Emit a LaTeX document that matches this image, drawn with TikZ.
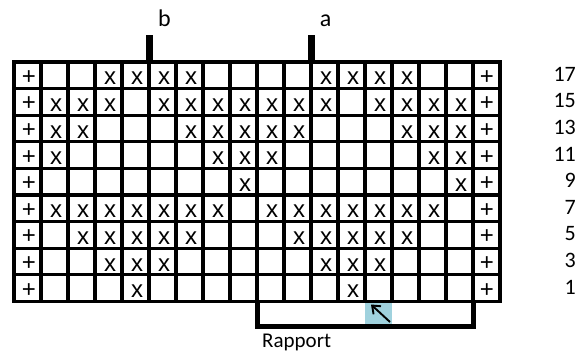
\documentclass[tikz,border=0pt]{standalone}
\usepackage{fontspec}
\setmainfont{Carlito}
\newfontfamily\cellfont{Liberation Sans}
\usetikzlibrary{arrows.meta}
\definecolor{cellblue}{RGB}{160,210,222}
\begin{document}
\begin{tikzpicture}[x=1pt,y=-1pt,
  gridline/.style={line width=3.2pt},
  border/.style={line width=3.2pt,line cap=rect},
  bar/.style={fill=black},
  bracket/.style={line width=5pt,line cap=rect,line join=miter},
  celltext/.style={font=\cellfont\fontsize{24}{24}\selectfont,inner sep=0pt,anchor=base},
  plustext/.style={font=\cellfont\fontsize{24}{24}\selectfont,inner sep=0pt,anchor=center},
  lbl/.style={font=\fontsize{24}{24}\selectfont,inner sep=0pt,anchor=base},
  rownum/.style={font=\fontsize{22}{22}\selectfont,inner sep=0pt,anchor=base east}]
\useasboundingbox (0,0) rectangle (586,351);
% highlighted cell below grid
\fill[cellblue] (365,302) rectangle (392,325);
\draw[line width=1.9pt,-{Straight Barb[length=7pt,width=11pt]}] (390,322) -- (371,304.5);
% grid lines
\foreach \i in {1,...,17} \draw[gridline] ({14+27*\i},62) -- ({14+27*\i},301.4);
\foreach \j in {1,...,8} \draw[gridline] (14,{62+26.6*\j}) -- (500,{62+26.6*\j});
\draw[border] (14,62) rectangle (500,301.4);
% markers a and b
\fill[bar] (146,35) rectangle (153,62);
\fill[bar] (308,35) rectangle (315,62);
\node[lbl] (b) at (164.5,26) {b};
\node[lbl] (a) at (325.5,26) {a};
% Rapport bracket
\draw[bracket] (257,302) -- (257,326) -- (473,326) -- (473,302);
\node[font=\fontsize{21}{21}\selectfont,inner sep=0pt,anchor=base west] (rapport) at (262,347) {Rapport};
% plus signs in first and last columns, row numbers
\foreach \r/\n in {1/17,2/15,3/13,4/11,5/9,6/7,7/5,8/3,9/1} {
  \node[plustext] (p-\r-1) at (29,{62+26.6*(\r-0.5)+2}) {+};
  \node[plustext] (p-\r-18) at ({14+27*17.5+0.5},{62+26.6*(\r-0.5)+2}) {+};
  \node[rownum] (n-\r) at (576,{62+26.6*(\r-0.5)+6}) {\n};
}
% crosses
\foreach \r/\cols in {1/{4,5,6,7,12,13,14,15},
  2/{2,3,4,6,7,8,9,10,11,12,14,15,16,17},
  3/{2,3,7,8,9,10,11,15,16,17},
  4/{2,8,9,10,16,17},
  5/{9,17},
  6/{2,3,4,5,6,7,8,10,11,12,13,14,15,16},
  7/{3,4,5,6,7,11,12,13,14,15},
  8/{4,5,6,12,13,14},
  9/{5,13}} {
  \foreach \c in \cols {
    \node[celltext] (x-\r-\c) at ({14+27*(\c-0.5)+1.5},{62+26.6*(\r-0.5)+9.5}) {x};
  }
}
\end{tikzpicture}
\end{document}
